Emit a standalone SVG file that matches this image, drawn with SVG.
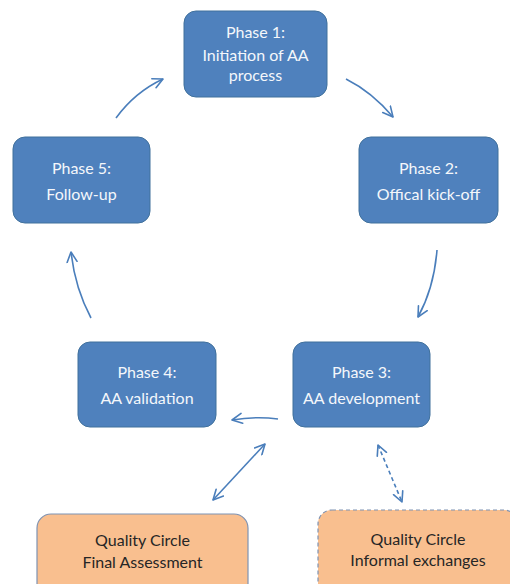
<svg xmlns="http://www.w3.org/2000/svg" width="510" height="584" viewBox="0 0 510 584">
<defs>
<marker id="ah" viewBox="0 0 12 12" refX="11" refY="6" markerWidth="12" markerHeight="12" markerUnits="userSpaceOnUse" orient="auto-start-reverse">
<path d="M1,1 L11,6 L1,11" fill="none" stroke="#4a7ebb" stroke-width="1.6" stroke-linecap="round" stroke-linejoin="round"/>
</marker>
<style>
.ph rect{fill:#4f81bd;stroke:#41719c;stroke-width:1}
.ph text{fill:#f4f7fb;font-family:Lato,"Liberation Sans",sans-serif;font-size:16px;text-anchor:middle}
.qc rect{fill:#f9bf8f;stroke:#7f93b3;stroke-width:1.2}
.qc text{fill:#262626;font-family:Lato,"Liberation Sans",sans-serif;font-size:16px;text-anchor:middle}
.cn path{fill:none;stroke:#4a7ebb;stroke-width:1.6}
</style>
</defs>
<rect width="510" height="584" fill="#ffffff"/>
<g id="phase1" class="ph"><rect x="184" y="11" width="143" height="86" rx="12"/><text x="255.5" y="38">Phase 1:</text><text x="255.5" y="61">Initiation of AA</text><text x="255.5" y="81">process</text></g>
<g id="phase2" class="ph"><rect x="359" y="137" width="139" height="86" rx="12"/><text x="428.5" y="174">Phase 2:</text><text x="428.5" y="200">Offical kick-off</text></g>
<g id="phase3" class="ph"><rect x="293" y="342" width="137" height="85" rx="12"/><text x="361.5" y="378">Phase 3:</text><text x="361.5" y="404">AA development</text></g>
<g id="phase4" class="ph"><rect x="78" y="342" width="138" height="85" rx="12"/><text x="147" y="378">Phase 4:</text><text x="147" y="404">AA validation</text></g>
<g id="phase5" class="ph"><rect x="13" y="137" width="137" height="86" rx="12"/><text x="81.5" y="174">Phase 5:</text><text x="81.5" y="200">Follow-up</text></g>
<g id="qc1" class="qc"><rect x="37" y="514" width="211" height="90" rx="14"/><text x="142.5" y="546">Quality Circle</text><text x="142.5" y="568">Final Assessment</text></g>
<g id="qc2" class="qc"><rect x="318" y="510" width="200" height="90" rx="14" stroke-dasharray="4,3"/><text x="418" y="545">Quality Circle</text><text x="418" y="566">Informal exchanges</text></g>
<g id="connectors" class="cn">
<path d="M116,118 Q135,92 163,79" marker-end="url(#ah)"/>
<path d="M346,79 Q372,92 393,117" marker-end="url(#ah)"/>
<path d="M437,250 Q434,288 418,317" marker-end="url(#ah)"/>
<path d="M278,419 Q256,416 232,420" marker-end="url(#ah)"/>
<path d="M91,318 Q75,288 71,252" marker-end="url(#ah)"/>
<path d="M265,444 L213,500" marker-start="url(#ah)" marker-end="url(#ah)"/>
<path d="M378,445 L402,502" stroke-dasharray="4,3" marker-start="url(#ah)" marker-end="url(#ah)"/>
</g>
</svg>
